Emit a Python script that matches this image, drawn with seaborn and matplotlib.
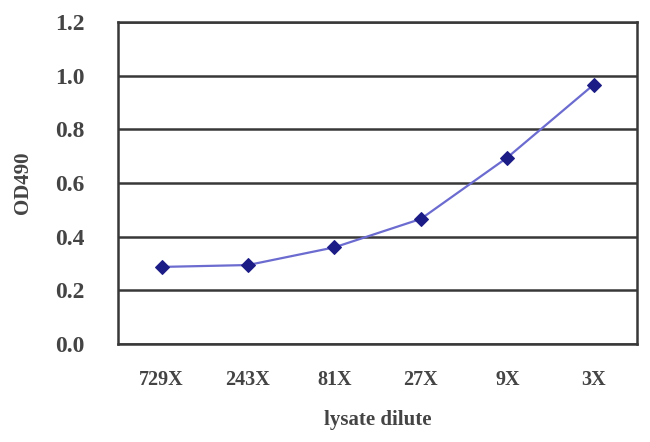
import pandas as pd
import numpy as np
import matplotlib
matplotlib.use("Agg")
import matplotlib.pyplot as plt
import seaborn as sns

dilutions = ["729X", "243X", "81X", "27X", "9X", "3X"]
od490 = [0.287, 0.294, 0.36, 0.466, 0.695, 0.967]

df = pd.DataFrame({"dilution": dilutions, "od": od490})

sns.set_style("white")
plt.rcParams["font.family"] = ["Liberation Serif", "DejaVu Serif"]

fig = plt.figure(figsize=(6.5, 4.42), dpi=100)
ax = fig.add_axes([0.182, 0.222, 0.798, 0.728])

sns.lineplot(data=df, x="dilution", y="od", ax=ax, color="#6b6bd0", linewidth=1.6,
             marker="D", markersize=7, markerfacecolor="#1c1c86", markeredgecolor="#1c1c86",
             sort=False)

txt = "#444444"
ax.set_ylim(0, 1.2)
ax.set_yticks(np.arange(0, 1.21, 0.2))
ax.set_yticklabels([f"{v:.1f}" for v in np.arange(0, 1.21, 0.2)], fontsize=17,
                   fontweight="bold", color=txt)
ax.set_xlim(-0.5, len(dilutions) - 0.5)
ax.set_xticks(range(len(dilutions)))
ax.set_xticklabels(dilutions, fontsize=14.5, fontweight="bold", color=txt)
ax.set_xticks(np.arange(-0.5, len(dilutions), 1), minor=True)
ax.tick_params(axis="x", which="major", length=0, pad=19)
ax.tick_params(axis="x", which="minor", length=3, width=1.2, direction="in", color="#333333")
ax.tick_params(axis="y", length=0, pad=24)

ax.yaxis.grid(True, color="#383838", linewidth=1.8)
ax.set_axisbelow(True)
for side in ["left", "bottom", "right", "top"]:
    ax.spines[side].set_color("#383838")
    ax.spines[side].set_linewidth(1.8)

ax.set_xlabel("lysate dilute", fontsize=15, fontweight="bold", color=txt, labelpad=14)
ax.set_ylabel("OD490", fontsize=15, fontweight="bold", color=txt, labelpad=16)

fig.savefig("out.png", dpi=100, facecolor="white")
